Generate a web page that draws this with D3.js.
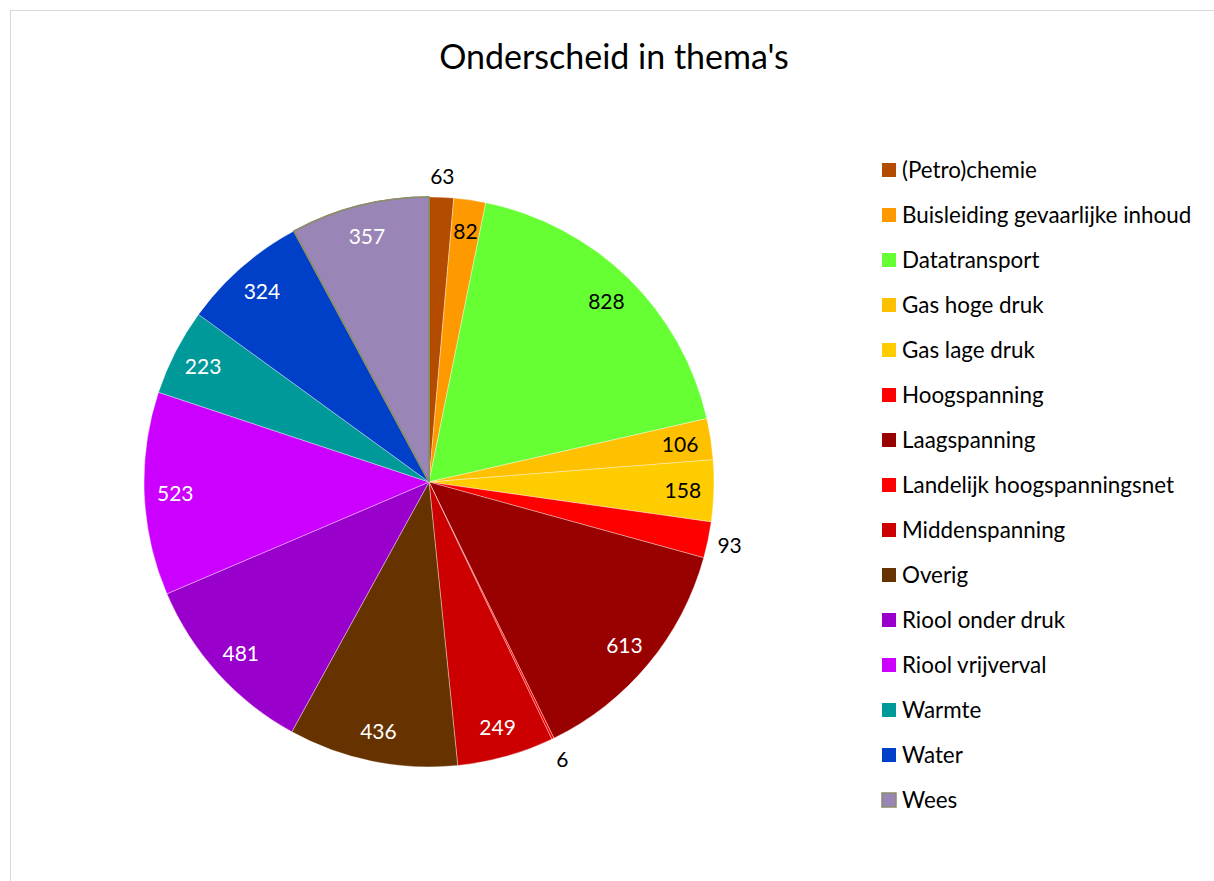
<!DOCTYPE html>
<html>
<head>
<meta charset="utf-8">
<script src="https://cdn.jsdelivr.net/npm/d3@7/dist/d3.min.js"></script>
<style>
  html, body { margin: 0; padding: 0; background: #fff; }
  svg { display: block; }
</style>
</head>
<body>
<svg id="chart" width="1214" height="881"></svg>
<script>
// ---- data ----
const title = "Onderscheid in thema's";
const categories = [
  "(Petro)chemie", "Buisleiding gevaarlijke inhoud", "Datatransport", "Gas hoge druk",
  "Gas lage druk", "Hoogspanning", "Laagspanning", "Landelijk hoogspanningsnet",
  "Middenspanning", "Overig", "Riool onder druk", "Riool vrijverval",
  "Warmte", "Water", "Wees"
];
const values = [63, 82, 828, 106, 158, 93, 613, 6, 249, 436, 481, 523, 223, 324, 357];
const colors = [
  "#b34b00", "#ff9900", "#66ff33", "#ffc000",
  "#ffcc00", "#ff0000", "#990000", "#ff0000",
  "#cc0000", "#663300", "#9900cc", "#cc00ff",
  "#009999", "#0040c8", "#9a86b6"
];

// ---- layout / style (not data) ----
const font = "Lato, 'Open Sans', sans-serif";
const cx = 429, cy = 482, R = 285;
const outsideLabels = new Set(["(Petro)chemie", "Hoogspanning", "Landelijk hoogspanningsnet"]);
const darkTextInside = new Set(["Buisleiding gevaarlijke inhoud", "Datatransport", "Gas hoge druk", "Gas lage druk"]);
const bordered = { "Wees": "#8c8c6a" };

const svg = d3.select("#chart");

// chart area border
svg.append("rect")
  .attr("x", 10.5).attr("y", 10.5)
  .attr("width", 1300).attr("height", 1000)
  .attr("fill", "#fff").attr("stroke", "#d9d9d9").attr("stroke-width", 1);

// title
svg.append("text")
  .attr("x", 614).attr("y", 69)
  .attr("text-anchor", "middle")
  .attr("font-family", font).attr("font-size", 34)
  .attr("fill", "#000")
  .text(title);

const data = categories.map((c, i) => ({ name: c, value: values[i], color: colors[i] }));

const pie = d3.pie().value(d => d.value).sort(null).startAngle(0).endAngle(2 * Math.PI);
const arcs = pie(data);
const arc = d3.arc().innerRadius(0).outerRadius(R);
const labelArcIn = d3.arc().innerRadius(254).outerRadius(254);
const labelArcOut = d3.arc().innerRadius(307).outerRadius(307);

const g = svg.append("g").attr("transform", `translate(${cx},${cy})`);

g.selectAll("path.slice")
  .data(arcs)
  .enter().append("path")
  .attr("class", "slice")
  .attr("d", arc)
  .attr("fill", d => d.data.color)
  .attr("stroke", d => bordered[d.data.name] || "rgba(255,255,255,0.6)")
  .attr("stroke-width", d => bordered[d.data.name] ? 1.5 : 0.6)
  .attr("stroke-linejoin", "round");

// bordered slices drawn again on top so their border is fully visible
g.selectAll("path.slice-top")
  .data(arcs.filter(d => bordered[d.data.name]))
  .enter().append("path")
  .attr("d", arc)
  .attr("fill", "none")
  .attr("stroke", d => bordered[d.data.name])
  .attr("stroke-width", 1.5);

g.selectAll("text.lbl")
  .data(arcs)
  .enter().append("text")
  .attr("class", "lbl")
  .attr("transform", d => {
    const p = (outsideLabels.has(d.data.name) ? labelArcOut : labelArcIn).centroid(d);
    return `translate(${p[0]},${p[1]})`;
  })
  .attr("text-anchor", "middle")
  .attr("dominant-baseline", "central")
  .attr("font-family", font).attr("font-size", 21)
  .attr("fill", d => (outsideLabels.has(d.data.name) || darkTextInside.has(d.data.name)) ? "#000" : "#fff")
  .text(d => d.data.value);

// legend
const legend = svg.append("g").attr("transform", "translate(882,170)");
const rows = legend.selectAll("g.row")
  .data(data)
  .enter().append("g")
  .attr("class", "row")
  .attr("transform", (d, i) => `translate(0,${i * 45})`);

rows.append("rect")
  .attr("x", 0).attr("y", -7)
  .attr("width", 14).attr("height", 14)
  .attr("fill", d => d.color)
  .attr("stroke", d => bordered[d.name] || "none")
  .attr("stroke-width", d => bordered[d.name] ? 1.5 : 0);

rows.append("text")
  .attr("x", 20).attr("y", -1)
  .attr("dominant-baseline", "central")
  .attr("font-family", font).attr("font-size", 22.4)
  .attr("fill", "#000")
  .text(d => d.name);
</script>
</body>
</html>
